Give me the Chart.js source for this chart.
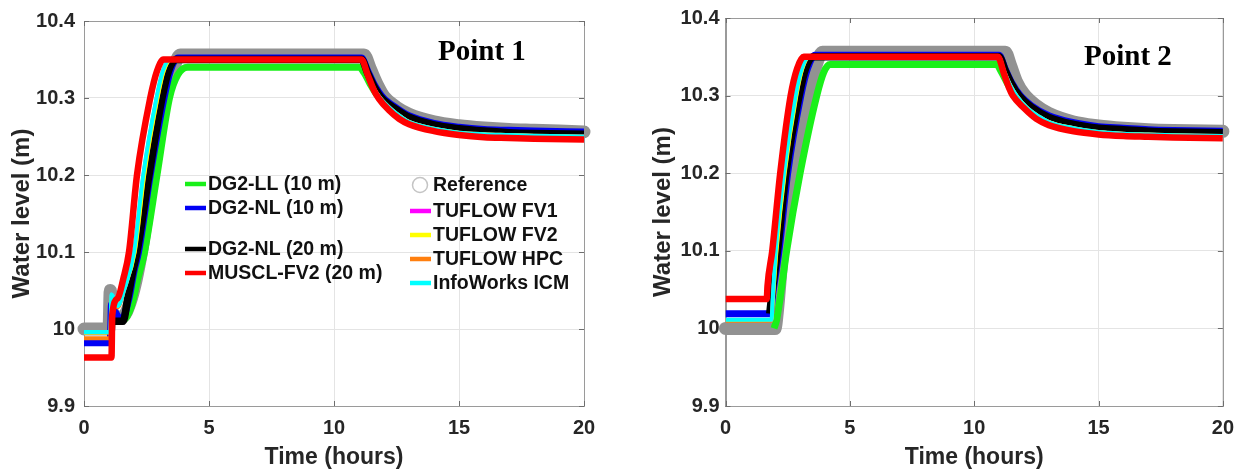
<!DOCTYPE html>
<html><head><meta charset="utf-8">
<script src="https://cdn.jsdelivr.net/npm/chart.js@4.4.1/dist/chart.umd.min.js"></script>
<style>
html,body{margin:0;padding:0;background:#fff;overflow:hidden;width:1244px;height:473px}
#w1{position:absolute;left:0;top:0;width:620px;height:473px}
#w2{position:absolute;left:620px;top:0;width:624px;height:473px}
</style></head><body>
<div id="w1"><canvas id="c1" width="620" height="473"></canvas></div>
<div id="w2"><canvas id="c2" width="624" height="473"></canvas></div>
<script>
// ---------- tick labels ----------
const xTickValues = [0, 5, 10, 15, 20];
const xTickLabels = ['0', '5', '10', '15', '20'];
const yTickValues = [9.9, 10.0, 10.1, 10.2, 10.3, 10.4];
const yTickLabels = ['9.9', '10', '10.1', '10.2', '10.3', '10.4'];

// ---------- series names ----------
const seriesLabels = ['Reference', 'DG2-LL (10 m)', 'DG2-NL (10 m)', 'DG2-NL (20 m)', 'MUSCL-FV2 (20 m)',
  'TUFLOW FV1', 'TUFLOW FV2', 'TUFLOW HPC', 'InfoWorks ICM'];
const panelTitles = ['Point 1', 'Point 2'];

// ---------- Point 1 (time in hours, water level in m) ----------
const p1_ref_t = [0, 1.0, 1.05, 1.14, 1.5, 1.9, 2.3, 2.75, 3.25, 3.55, 3.85, 11.2, 11.45, 11.75, 12.0, 12.5, 13, 14, 15, 16, 17, 18, 20];
const p1_ref_v = [10.0, 10.0, 10.05, 10.02, 10.015, 10.04, 10.1, 10.2, 10.3, 10.335, 10.356, 10.356, 10.338, 10.316, 10.302, 10.288, 10.279, 10.269, 10.264, 10.261, 10.259, 10.258, 10.256];
const p1_ll10_t = [1.1, 1.6, 1.9, 2.15, 2.42, 2.92, 3.42, 3.75, 4.15, 11.0, 11.2, 11.45, 11.7, 12.0, 12.5, 13, 14, 15, 16, 17, 18, 20];
const p1_ll10_v = [10.01, 10.012, 10.03, 10.065, 10.1, 10.2, 10.3, 10.33, 10.34, 10.34, 10.333, 10.318, 10.305, 10.295, 10.282, 10.273, 10.263, 10.258, 10.256, 10.254, 10.253, 10.252];
const p1_nl10_t = [0, 1.05, 1.1, 1.2, 1.5, 1.8, 2.0, 2.18, 2.65, 3.2, 3.45, 3.75, 11.1, 11.35, 11.6, 11.95, 12.5, 13, 14, 15, 16, 17, 18, 20];
const p1_nl10_v = [9.982, 9.982, 10.032, 10.025, 10.012, 10.04, 10.075, 10.1, 10.2, 10.3, 10.335, 10.352, 10.352, 10.335, 10.318, 10.301, 10.287, 10.277, 10.267, 10.262, 10.259, 10.258, 10.257, 10.256];
const p1_nl20_t = [1.1, 1.56, 1.75, 1.95, 2.12, 2.6, 3.12, 3.38, 3.68, 11.1, 11.35, 11.6, 11.9, 12.5, 13, 14, 15, 16, 17, 18, 20];
const p1_nl20_v = [10.01, 10.01, 10.04, 10.075, 10.1, 10.2, 10.3, 10.335, 10.35, 10.35, 10.332, 10.315, 10.3, 10.285, 10.275, 10.265, 10.26, 10.257, 10.255, 10.254, 10.253];
const p1_muscl_t = [0, 1.1, 1.13, 1.35, 1.57, 1.8, 2.12, 2.65, 2.92, 3.18, 11.1, 11.35, 11.6, 11.8, 12.2, 12.6, 13, 14, 15, 16, 17, 18, 20];
const p1_muscl_v = [9.963, 9.963, 10.018, 10.04, 10.065, 10.1, 10.2, 10.3, 10.335, 10.35, 10.35, 10.33, 10.31, 10.299, 10.284, 10.273, 10.266, 10.257, 10.252, 10.249, 10.248, 10.247, 10.246];
const p1_fv1_t = [0, 1.05, 1.1, 1.2, 1.35, 1.6, 2.0, 2.37, 2.9, 3.15, 3.45, 11.1, 11.35, 11.6, 11.85, 12.3, 12.7, 13, 14, 15, 16, 17, 18, 20];
const p1_fv1_v = [9.996, 9.996, 10.045, 10.04, 10.03, 10.05, 10.1, 10.2, 10.3, 10.335, 10.35, 10.35, 10.331, 10.312, 10.3, 10.285, 10.275, 10.269, 10.26, 10.255, 10.253, 10.252, 10.251, 10.25];
const p1_fv2_t = [0, 1.05, 1.1, 1.2, 1.35, 1.6, 2.04, 2.42, 2.95, 3.2, 3.5, 11.1, 11.35, 11.6, 11.85, 12.3, 12.7, 13, 14, 15, 16, 17, 18, 20];
const p1_fv2_v = [9.995, 9.995, 10.044, 10.039, 10.03, 10.052, 10.1, 10.2, 10.3, 10.335, 10.35, 10.35, 10.331, 10.312, 10.3, 10.285, 10.275, 10.269, 10.26, 10.255, 10.253, 10.252, 10.251, 10.2495];
const p1_hpc_t = [0, 1.05, 1.1, 1.2, 1.35, 1.6, 2.02, 2.4, 2.93, 3.18, 3.48, 11.1, 11.35, 11.6, 11.85, 12.3, 12.7, 13, 14, 15, 16, 17, 18, 20];
const p1_hpc_v = [9.988, 9.988, 10.04, 10.035, 10.028, 10.05, 10.1, 10.2, 10.3, 10.335, 10.35, 10.35, 10.331, 10.312, 10.3, 10.285, 10.275, 10.269, 10.26, 10.255, 10.253, 10.252, 10.251, 10.25];
const p1_icm_t = [0, 1.05, 1.1, 1.2, 1.35, 1.6, 2.0, 2.37, 2.9, 3.15, 3.45, 11.1, 11.35, 11.6, 11.85, 12.3, 12.7, 13, 14, 15, 16, 17, 18, 20];
const p1_icm_v = [9.996, 9.996, 10.045, 10.04, 10.03, 10.05, 10.1, 10.2, 10.3, 10.335, 10.35, 10.35, 10.331, 10.312, 10.3, 10.285, 10.275, 10.269, 10.26, 10.255, 10.253, 10.252, 10.251, 10.25];

// ---------- Point 2 ----------
const p2_ref_t = [0, 1.99, 2.08, 2.3, 2.72, 3.3, 3.6, 3.9, 11.25, 11.45, 11.7, 12.0, 12.5, 13, 14, 15, 16, 17, 18, 20];
const p2_ref_v = [10.0, 10.0, 10.02, 10.1, 10.2, 10.3, 10.335, 10.356, 10.356, 10.34, 10.318, 10.302, 10.287, 10.277, 10.266, 10.261, 10.258, 10.256, 10.255, 10.254];
const p2_ll10_t = [1.95, 2.05, 2.2, 2.46, 3.0, 3.67, 3.95, 4.2, 10.9, 11.1, 11.35, 11.6, 11.9, 12.4, 13, 14, 15, 16, 17, 18, 20];
const p2_ll10_v = [10.0, 10.01, 10.04, 10.1, 10.2, 10.3, 10.33, 10.34, 10.34, 10.33, 10.315, 10.303, 10.293, 10.281, 10.271, 10.262, 10.257, 10.255, 10.253, 10.252, 10.251];
const p2_nl10_t = [0, 1.8, 1.88, 2.15, 2.5, 3.03, 3.3, 3.6, 11.0, 11.25, 11.5, 11.85, 12.3, 13, 14, 15, 16, 17, 18, 20];
const p2_nl10_v = [10.019, 10.019, 10.04, 10.1, 10.2, 10.3, 10.335, 10.352, 10.352, 10.334, 10.317, 10.3, 10.287, 10.274, 10.265, 10.26, 10.258, 10.256, 10.255, 10.254];
const p2_nl20_t = [1.78, 1.85, 2.09, 2.43, 2.96, 3.22, 3.52, 11.0, 11.25, 11.5, 11.8, 12.3, 13, 14, 15, 16, 17, 18, 20];
const p2_nl20_v = [10.019, 10.04, 10.1, 10.2, 10.3, 10.335, 10.35, 10.35, 10.332, 10.315, 10.3, 10.285, 10.272, 10.263, 10.258, 10.256, 10.254, 10.253, 10.252];
const p2_muscl_t = [0, 1.66, 1.69, 1.88, 2.2, 2.62, 2.88, 3.15, 10.95, 11.2, 11.4, 11.55, 12.0, 12.5, 13, 14, 15, 16, 17, 18, 20];
const p2_muscl_v = [10.038, 10.038, 10.055, 10.1, 10.2, 10.3, 10.335, 10.35, 10.35, 10.328, 10.31, 10.3, 10.284, 10.27, 10.262, 10.254, 10.25, 10.248, 10.247, 10.246, 10.245];
const p2_fv1_t = [0, 1.85, 1.9, 2.02, 2.35, 2.82, 3.07, 3.38, 10.98, 11.22, 11.47, 11.7, 12.1, 12.6, 13, 14, 15, 16, 17, 18, 20];
const p2_fv1_v = [10.011, 10.011, 10.04, 10.1, 10.2, 10.3, 10.335, 10.35, 10.35, 10.33, 10.312, 10.3, 10.285, 10.273, 10.266, 10.258, 10.253, 10.251, 10.25, 10.249, 10.248];
const p2_fv2_t = [0, 1.85, 1.92, 2.06, 2.39, 2.86, 3.1, 3.4, 10.98, 11.22, 11.47, 11.7, 12.1, 12.6, 13, 14, 15, 16, 17, 18, 20];
const p2_fv2_v = [10.011, 10.011, 10.04, 10.1, 10.2, 10.3, 10.335, 10.35, 10.35, 10.33, 10.312, 10.3, 10.285, 10.273, 10.266, 10.258, 10.253, 10.251, 10.25, 10.249, 10.2475];
const p2_hpc_t = [0, 1.85, 1.91, 2.04, 2.37, 2.84, 3.09, 3.39, 10.98, 11.22, 11.47, 11.7, 12.1, 12.6, 13, 14, 15, 16, 17, 18, 20];
const p2_hpc_v = [10.010, 10.010, 10.04, 10.1, 10.2, 10.3, 10.335, 10.35, 10.35, 10.33, 10.312, 10.3, 10.285, 10.273, 10.266, 10.258, 10.253, 10.251, 10.25, 10.249, 10.248];
const p2_icm_t = [0, 1.85, 1.9, 2.02, 2.35, 2.82, 3.07, 3.38, 10.98, 11.22, 11.47, 11.7, 12.1, 12.6, 13, 14, 15, 16, 17, 18, 20];
const p2_icm_v = [10.011, 10.011, 10.04, 10.1, 10.2, 10.3, 10.335, 10.35, 10.35, 10.33, 10.312, 10.3, 10.285, 10.273, 10.266, 10.258, 10.253, 10.251, 10.25, 10.249, 10.248];

// ---------- styles (index follows seriesLabels) ----------
const seriesStyle = [
  {color: '#929292', width: 13, order: 9, cap: 'round'},
  {color: '#19f019', width: 7, order: 8},
  {color: '#0000f5', width: 7, order: 7},
  {color: '#000000', width: 7.5, order: 6},
  {color: '#ff0000', width: 6.5, order: 1},
  {color: '#ff00ff', width: 3.5, order: 5},
  {color: '#ffff00', width: 3.5, order: 3},
  {color: '#ff7f0f', width: 4, order: 4},
  {color: '#00ffff', width: 4, order: 2}
];

function pts(t, v) { return t.map((x, i) => ({x: x, y: v[i]})); }

const p1Series = [[p1_ref_t, p1_ref_v], [p1_ll10_t, p1_ll10_v], [p1_nl10_t, p1_nl10_v], [p1_nl20_t, p1_nl20_v],
  [p1_muscl_t, p1_muscl_v], [p1_fv1_t, p1_fv1_v], [p1_fv2_t, p1_fv2_v], [p1_hpc_t, p1_hpc_v], [p1_icm_t, p1_icm_v]];
const p2Series = [[p2_ref_t, p2_ref_v], [p2_ll10_t, p2_ll10_v], [p2_nl10_t, p2_nl10_v], [p2_nl20_t, p2_nl20_v],
  [p2_muscl_t, p2_muscl_v], [p2_fv1_t, p2_fv1_v], [p2_fv2_t, p2_fv2_v], [p2_hpc_t, p2_hpc_v], [p2_icm_t, p2_icm_v]];

const SANS = '"Liberation Sans", Arial, sans-serif';
const SERIF = '"Liberation Serif", "Times New Roman", serif';

// box + inward ticks (MATLAB style)
const boxPlugin = {
  id: 'box',
  beforeDatasetsDraw(chart) {
    const {ctx, chartArea: a, scales} = chart;
    ctx.save();
    ctx.strokeStyle = '#9a9a9a';
    ctx.lineWidth = 1;
    ctx.strokeRect(Math.round(a.left) + 0.5, Math.round(a.top) + 0.5, Math.round(a.right - a.left), Math.round(a.bottom - a.top));
    ctx.strokeStyle = '#6e6e6e';
    ctx.beginPath();
    xTickValues.forEach(v => {
      const x = Math.round(scales.x.getPixelForValue(v)) + 0.5;
      ctx.moveTo(x, a.bottom); ctx.lineTo(x, a.bottom - 5);
      ctx.moveTo(x, a.top); ctx.lineTo(x, a.top + 5);
    });
    yTickValues.forEach(v => {
      const y = Math.round(scales.y.getPixelForValue(v)) + 0.5;
      ctx.moveTo(a.left, y); ctx.lineTo(a.left + 5, y);
      ctx.moveTo(a.right, y); ctx.lineTo(a.right - 5, y);
    });
    ctx.stroke();
    ctx.restore();
  }
};

// panel title + custom two-column legend
const annoPlugin = {
  id: 'anno',
  afterDraw(chart, args, opts) {
    const ctx = chart.ctx;
    ctx.save();
    if (opts.title) {
      ctx.font = 'bold 29px ' + SERIF;
      ctx.fillStyle = '#000';
      ctx.textAlign = 'left';
      ctx.textBaseline = 'alphabetic';
      ctx.fillText(opts.title.text, opts.title.x, opts.title.y);
    }
    (opts.items || []).forEach(it => {
      const st = seriesStyle[it.idx];
      if (it.idx === 0) {
        ctx.beginPath();
        ctx.arc(it.x + 10, it.y, 7.5, 0, Math.PI * 2);
        ctx.fillStyle = '#fff';
        ctx.fill();
        ctx.strokeStyle = '#c4c4c4';
        ctx.lineWidth = 1.5;
        ctx.stroke();
      } else {
        ctx.beginPath();
        ctx.moveTo(it.x, it.y);
        ctx.lineTo(it.x + 21, it.y);
        ctx.strokeStyle = st.color;
        ctx.lineWidth = 4.5;
        ctx.lineCap = 'butt';
        ctx.stroke();
      }
      ctx.font = 'bold 19.5px ' + SANS;
      ctx.fillStyle = '#111';
      ctx.textAlign = 'left';
      ctx.textBaseline = 'middle';
      ctx.fillText(seriesLabels[it.idx], it.x + 23, it.y + 1);
    });
    ctx.restore();
  }
};

function makeChart(id, series, cfg) {
  const datasets = series.map((s, i) => ({
    label: seriesLabels[i],
    data: pts(s[0], s[1]),
    borderColor: seriesStyle[i].color,
    backgroundColor: seriesStyle[i].color,
    borderWidth: seriesStyle[i].width,
    order: seriesStyle[i].order,
    pointRadius: 0,
    fill: false,
    cubicInterpolationMode: 'monotone',
    borderJoinStyle: 'round',
    borderCapStyle: seriesStyle[i].cap || 'butt',
    clip: i === 0 ? false : undefined
  }));
  return new Chart(document.getElementById(id), {
    type: 'line',
    data: {datasets},
    plugins: [boxPlugin, annoPlugin],
    options: {
      responsive: false,
      animation: false,
      devicePixelRatio: 1,
      parsing: false,
      layout: {padding: {top: cfg.padTop, right: cfg.padRight, left: 0, bottom: 0}},
      plugins: {
        legend: {display: false},
        tooltip: {enabled: false},
        anno: {title: cfg.title, items: cfg.items}
      },
      scales: {
        x: {
          type: 'linear', min: 0, max: 20,
          afterBuildTicks: s => { s.ticks = xTickValues.map(v => ({value: v})); },
          afterFit: s => { s.height = cfg.xAxisHeight; },
          ticks: {
            callback: (v, i) => xTickLabels[i],
            font: {family: SANS, size: 20, weight: 'bold'}, color: '#262626', padding: 10, maxRotation: 0
          },
          grid: {color: '#e4e4e4', drawTicks: false},
          border: {color: '#9a9a9a'},
          title: {display: true, text: 'Time (hours)', font: {family: SANS, size: 23, weight: 'bold'}, color: '#262626', padding: {top: 0, bottom: 2}}
        },
        y: {
          type: 'linear', min: 9.9, max: 10.4,
          afterBuildTicks: s => { s.ticks = yTickValues.map(v => ({value: v})); },
          afterFit: s => { s.width = cfg.yAxisWidth; },
          ticks: {
            callback: (v, i) => yTickLabels[i],
            font: {family: SANS, size: 20, weight: 'bold'}, color: '#262626', padding: cfg.yTickPad
          },
          grid: {color: '#e4e4e4', drawTicks: false},
          border: {color: '#9a9a9a'},
          title: {display: true, text: 'Water level (m)', font: {family: SANS, size: 24, weight: 'bold'}, color: '#262626', padding: {top: cfg.yTitlePad, bottom: 0}}
        }
      }
    }
  });
}

makeChart('c1', p1Series, {
  padTop: 16, padRight: 36, xAxisHeight: 67, yAxisWidth: 84, yTickPad: 9, yTitlePad: 8,
  title: {text: panelTitles[0], x: 438, y: 60},
  items: [
    {idx: 1, x: 185, y: 184}, {idx: 2, x: 185, y: 208}, {idx: 3, x: 185, y: 249}, {idx: 4, x: 185, y: 273},
    {idx: 0, x: 410, y: 185}, {idx: 5, x: 410, y: 211}, {idx: 6, x: 410, y: 235}, {idx: 7, x: 410, y: 259}, {idx: 8, x: 410, y: 283}
  ]
});
makeChart('c2', p2Series, {
  padTop: 16, padRight: 21, xAxisHeight: 67, yAxisWidth: 105.5, yTickPad: 6, yTitlePad: 29,
  title: {text: panelTitles[1], x: 464, y: 65},
  items: []
});
</script>
</body></html>
